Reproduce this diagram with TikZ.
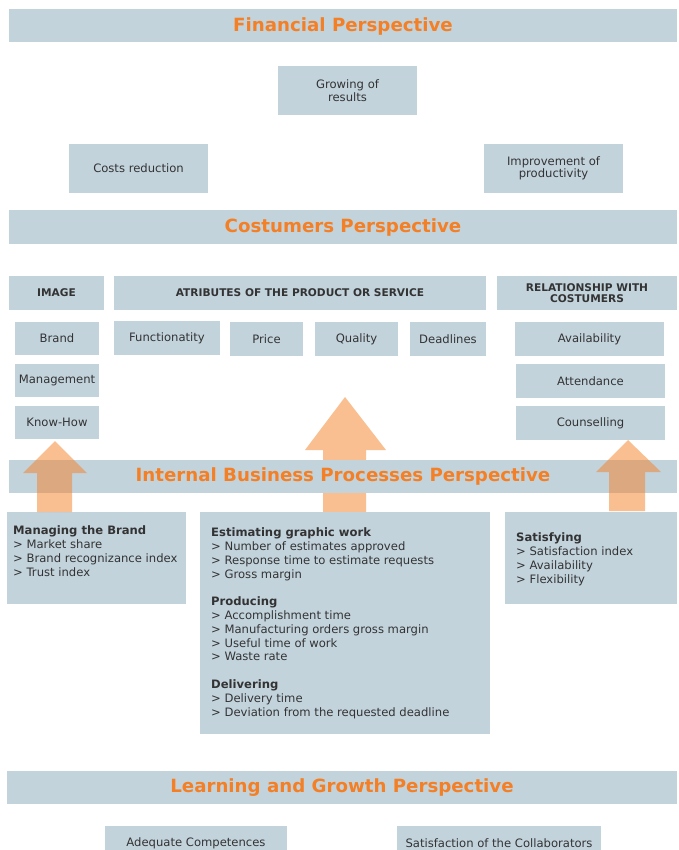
\documentclass[tikz,border=0pt]{standalone}
\usepackage{fontspec}
\setmainfont{DejaVu Sans}
\usetikzlibrary{positioning}

\definecolor{boxfill}{HTML}{C2D3DC}
\definecolor{perspective}{HTML}{F47F24}
\definecolor{darktext}{HTML}{333333}

\tikzset{
	band/.style={fill=boxfill, minimum width=668pt, minimum height=33pt, inner sep=0pt,
		text=perspective, font=\bfseries\fontsize{18.2}{20}\selectfont},
	goal/.style={fill=boxfill, inner sep=0pt, align=center, text=darktext,
		font=\fontsize{11.6}{12.5}\selectfont},
	group/.style={goal, font=\bfseries\fontsize{10.6}{11}\selectfont},
	measures/.style={fill=boxfill, inner sep=0pt},
	measuretext/.style={anchor=north west, align=left, inner sep=0pt, text=darktext,
		font=\fontsize{11.6}{13.83}\selectfont},
	bigarrow/.style={fill=perspective, fill opacity=0.5}
}

\begin{document}
\begin{tikzpicture}[x=1pt, y=-1pt]
	\clip (0,0) rectangle (678,850);
	% arrow behind the internal band
	\fill[bigarrow] (323,512) -- (323,450) -- (305,450) -- (345,397) -- (386,450) -- (366,450) -- (366,512) -- cycle;

	% financial
	\node[band] (fin) at (343,26) {Financial Perspective};
	\node[goal, minimum width=139pt, minimum height=49pt] (grow) at (347.5,90.5) {Growing of\\results};
	\node[goal, minimum width=139pt, minimum height=49pt] (cost) at (138.5,168.5) {Costs reduction};
	\node[goal, minimum width=139pt, minimum height=49pt] (prod) at (553.5,168.5) {Improvement of\\productivity};

	% costumers
	\node[band] (cust) at (343,227) {Costumers Perspective};
	\node[group, minimum width=95pt, minimum height=34pt] (image) at (56.5,293) {IMAGE};
	\node[group, minimum width=372pt, minimum height=34pt] (attr) at (300,293) {ATRIBUTES OF THE PRODUCT OR SERVICE};
	\node[group, minimum width=180pt, minimum height=34pt] (rel) at (587,293) {RELATIONSHIP WITH\\COSTUMERS};

	\node[goal, minimum width=84pt, minimum height=33pt] (brand) at (57,338.5) {Brand};
	\node[goal, minimum width=84pt, minimum height=33pt] (mgmt) at (57,380.5) {Management};
	\node[goal, minimum width=84pt, minimum height=33pt] (know) at (57,422.5) {Know-How};

	\node[goal, minimum width=106pt, minimum height=34pt] (func) at (167,338) {Functionatity};
	\node[goal, minimum width=73pt, minimum height=34pt] (price) at (266.5,339) {Price};
	\node[goal, minimum width=83pt, minimum height=34pt] (qual) at (356.5,339) {Quality};
	\node[goal, minimum width=76pt, minimum height=34pt] (dead) at (448,339) {Deadlines};

	\node[goal, minimum width=149pt, minimum height=34pt] (avail) at (589.5,339) {Availability};
	\node[goal, minimum width=149pt, minimum height=34pt] (att) at (590.5,381) {Attendance};
	\node[goal, minimum width=149pt, minimum height=34pt] (couns) at (590.5,423) {Counselling};

	% internal
	\node[band] (int) at (343,476.5) {Internal Business Processes Perspective};
	\node[measures, minimum width=179pt, minimum height=92pt] (brandm) at (96.5,558) {};
	\node[measuretext] at (13,525.5) {\textbf{Managing the Brand}\\
		> Market share\\
		> Brand recognizance index\\
		> Trust index};
	\node[measures, minimum width=290pt, minimum height=222pt] (procm) at (345,623) {};
	\node[measuretext] at (211,527.5) {\textbf{Estimating graphic work}\\
		> Number of estimates approved\\
		> Response time to estimate requests\\
		> Gross margin\\[13.83pt]
		\textbf{Producing}\\
		> Accomplishment time\\
		> Manufacturing orders gross margin\\
		> Useful time of work\\
		> Waste rate\\[13.83pt]
		\textbf{Delivering}\\
		> Delivery time\\
		> Deviation from the requested deadline};
	\node[measures, minimum width=172pt, minimum height=92pt] (satm) at (591,558) {};
	\node[measuretext] at (516,532.5) {\textbf{Satisfying}\\
		> Satisfaction index\\
		> Availability\\
		> Flexibility};

	% arrows over the internal band
	\fill[bigarrow] (37,512) -- (37,473) -- (23,473) -- (55,441) -- (87,473) -- (72,473) -- (72,512) -- cycle;
	\fill[bigarrow] (609,511) -- (609,472) -- (596,472) -- (628,440) -- (661,472) -- (645,472) -- (645,511) -- cycle;

	% learning
	\node[band, minimum width=670pt] (learn) at (342,787.5) {Learning and Growth Perspective};
	\node[goal, minimum width=182pt, minimum height=34pt] (comp) at (196,843) {Adequate Competences};
	\node[goal, minimum width=204pt, minimum height=34pt] (collab) at (499,843) {Satisfaction of the Collaborators};
\end{tikzpicture}
\end{document}
